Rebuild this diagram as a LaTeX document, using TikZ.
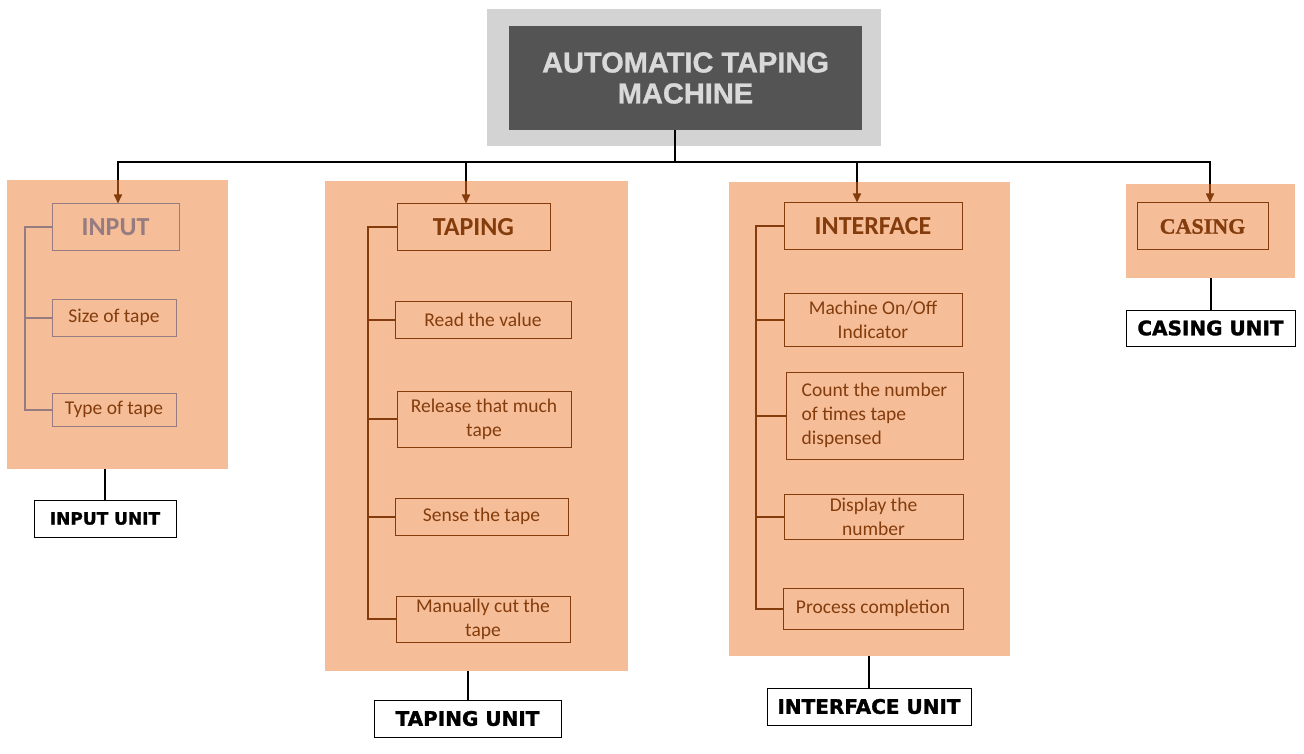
\documentclass[tikz,border=0pt]{standalone}
\usepackage{fontspec}
\setmainfont{Carlito}
\newfontfamily\headfont[BoldFeatures={FakeBold=1}]{Liberation Sans}
\newfontfamily\unitfont[BoldFeatures={FakeBold=1.5}]{DejaVu Sans}
\newfontfamily\casefont[BoldFeatures={FakeBold=1}]{Liberation Serif}
\usetikzlibrary{arrows.meta}

\begin{document}
\begin{tikzpicture}[x=1pt,y=-1pt]
    % Define colors
    \definecolor{panel}{RGB}{245,190,152}
    \definecolor{brownline}{RGB}{132,60,12}
    \definecolor{mauve}{RGB}{150,124,128}
    \definecolor{frame}{RGB}{211,211,211}
    \definecolor{dark}{RGB}{84,84,84}
    \definecolor{titletext}{RGB}{217,217,217}

    % Define styles
    \tikzstyle{panelbox} = [rectangle, fill=panel, inner sep=0pt]
    \tikzstyle{head} = [rectangle, draw=brownline, line width=1pt, text=brownline, inner sep=0pt, font=\fontsize{26}{30}\selectfont\bfseries]
    \tikzstyle{item} = [rectangle, draw=brownline, line width=1pt, text=brownline, inner sep=0pt, align=center, font=\fontsize{19.5}{24}\selectfont]
    \tikzstyle{unit} = [rectangle, draw=black, line width=1pt, fill=white, inner sep=0pt, font=\unitfont\fontsize{20}{24}\selectfont\bfseries]
    \tikzstyle{trunk} = [line width=2pt, black]
    \tikzstyle{branch} = [line width=2pt, brownline]
    \tikzstyle{arr} = [line width=1.6pt, brownline, -{Triangle[length=9pt,width=8pt]}]

    \useasboundingbox (0,0) rectangle (1304,754);

    % Title
    \node[rectangle, fill=frame, minimum width=394pt, minimum height=137pt] (frame) at (684,77.5) {};
    \node[rectangle, fill=dark, minimum width=353pt, minimum height=104pt, text=titletext, align=center, font=\headfont\fontsize{29}{31}\selectfont\bfseries] (title) at (685.5,78) {AUTOMATIC TAPING\\MACHINE};

    % Panels
    \node[panelbox, minimum width=221pt, minimum height=289pt] (inPanel) at (117.5,324.5) {};
    \node[panelbox, minimum width=303pt, minimum height=490pt] (tapPanel) at (476.5,426) {};
    \node[panelbox, minimum width=281pt, minimum height=474pt] (ifPanel) at (869.5,419) {};
    \node[panelbox, minimum width=169pt, minimum height=94pt] (casPanel) at (1210.5,231) {};

    % Input column
    \node[head, draw=mauve, text=mauve, minimum width=127pt, minimum height=47pt] (inHead) at (115.5,227.5) {INPUT};
    \node[item, draw=mauve, minimum width=124pt, minimum height=37pt] (inSize) at (114,317.5) {Size of tape};
    \node[item, draw=mauve, minimum width=124pt, minimum height=33pt] (inType) at (114,409.5) {Type of tape};

    % Taping column
    \node[head, minimum width=153pt, minimum height=47pt] (tapHead) at (473.5,227.5) {TAPING};
    \node[item, minimum width=176pt, minimum height=37pt] (tapRead) at (483,319.5) {Read the value};
    \node[item, minimum width=174pt, minimum height=56pt] (tapRelease) at (484,419) {Release that much\\tape};
    \node[item, minimum width=173pt, minimum height=37pt] (tapSense) at (481.5,516.5) {Sense the tape};
    \node[item, minimum width=174pt, minimum height=46pt] (tapCut) at (483,619) {Manually cut the\\tape};

    % Interface column
    \node[head, minimum width=178pt, minimum height=47pt] (ifHead) at (873,226.5) {INTERFACE};
    \node[item, align=left, minimum width=177pt, minimum height=87pt] (ifCount) at (874.5,415.5) {Count the number\\of times tape\\dispensed};
    \node[item, minimum width=178pt, minimum height=53pt] (ifOnOff) at (873,319.5) {Machine On/Off\\Indicator};
    \node[item, minimum width=179pt, minimum height=45pt] (ifDisplay) at (873.5,516.5) {Display the\\number};
    \node[item, minimum width=180pt, minimum height=41pt] (ifDone) at (873,608.5) {Process completion};

    % Casing column
    \node[head, minimum width=131pt, minimum height=47pt, font=\casefont\fontsize{22}{26}\selectfont\bfseries] (casHead) at (1202.5,226.5) {CASING};

    % Unit labels
    \node[unit, minimum width=142pt, minimum height=37pt, font=\unitfont\fontsize{17}{20}\selectfont\bfseries] (inUnit) at (105,518.5) {INPUT UNIT};
    \node[unit, minimum width=187pt, minimum height=37pt] (tapUnit) at (467.5,718.5) {TAPING UNIT};
    \node[unit, minimum width=204pt, minimum height=37pt] (ifUnit) at (869,706.5) {INTERFACE UNIT};
    \node[unit, minimum width=169pt, minimum height=36pt] (casUnit) at (1210.5,328) {CASING UNIT};

    % Bus from the title to the panels
    \coordinate (bus) at (675,162);
    \coordinate (inDrop) at (118,180);
    \coordinate (tapDrop) at (466,181);
    \coordinate (ifDrop) at (857,182);
    \coordinate (casDrop) at (1210,184);
    \draw[trunk] (bus |- title.south) -- (bus);
    \foreach \d in {inDrop,tapDrop,ifDrop,casDrop}
        \draw[trunk] (bus) -| (\d);

    % Arrows into the headers
    \draw[arr] (inDrop) -- (inDrop |- inHead.north);
    \draw[arr] (tapDrop) -- (tapDrop |- tapHead.north);
    \draw[arr] (ifDrop) -- (ifDrop |- ifHead.north);
    \draw[arr] (casDrop) -- (casDrop |- casHead.north);

    % Brackets
    \coordinate (inBar) at (25,0);
    \draw[branch, mauve] (inHead.west) -| (inBar |- inType.west) -- (inType.west);
    \draw[branch, mauve] (inSize.west) -- (inBar |- inSize.west);

    \coordinate (tapBar) at (368,0);
    \draw[branch] (tapHead.west) -| (tapBar |- tapCut.west) -- (tapCut.west);
    \foreach \n in {tapRead,tapRelease,tapSense}
        \draw[branch] (\n.west) -- (tapBar |- \n.west);

    \coordinate (ifBar) at (756,0);
    \draw[branch] (ifHead.west) -| (ifBar |- ifDone.west) -- (ifDone.west);
    \foreach \n in {ifOnOff,ifCount,ifDisplay}
        \draw[branch] (\n.west) -- (ifBar |- \n.west);

    % Panels to unit labels
    \draw[trunk] (inUnit.north |- inPanel.south) -- (inUnit.north);
    \draw[trunk] (tapUnit.north |- tapPanel.south) -- (tapUnit.north);
    \draw[trunk] (ifUnit.north |- ifPanel.south) -- (ifUnit.north);
    \draw[trunk] (casUnit.north |- casPanel.south) -- (casUnit.north);
\end{tikzpicture}
\end{document}
